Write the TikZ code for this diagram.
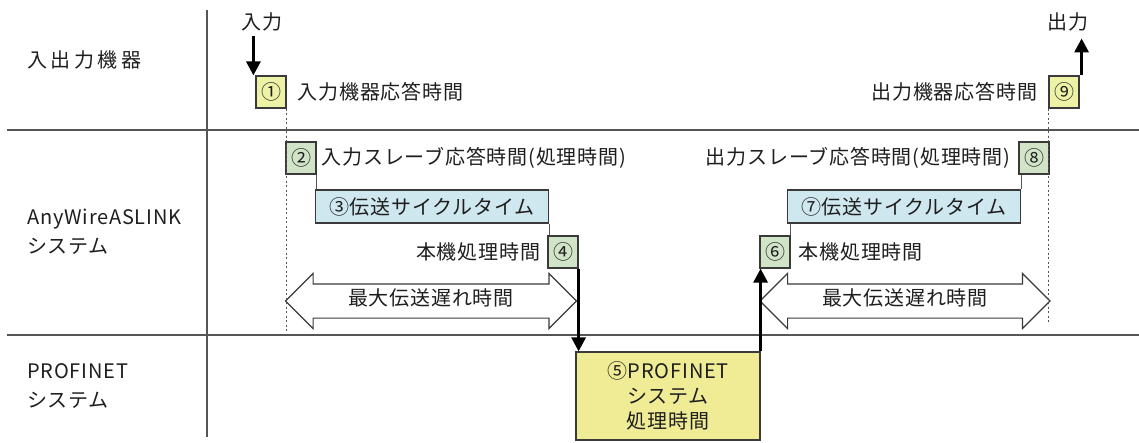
\documentclass[tikz,border=0pt]{standalone}
\usepackage{fontspec}
\newfontfamily\jpfont{Noto Sans CJK JP}[LetterSpace=4]
\newfontfamily\jpwide{Noto Sans CJK JP}[LetterSpace=18]
\usepackage{xcolor}
\usetikzlibrary{positioning, arrows.meta, calc, shapes.arrows}
\definecolor{txt}{HTML}{1E1E1E}
\definecolor{boxline}{HTML}{3A3A3A}
\definecolor{rulec}{HTML}{555555}
\definecolor{devfill}{HTML}{EEF2A6}
\definecolor{slvfill}{HTML}{D2E4C8}
\definecolor{cycfill}{HTML}{CFE7EE}
\definecolor{sysfill}{HTML}{F0EC96}
\tikzset{
  base/.style={font=\jpfont\fontsize{20}{25}\selectfont, text=txt},
  lbl/.style={base, inner sep=0pt},
  lane/.style={base, inner sep=0pt, anchor=west, align=left, font=\jpfont\fontsize{20}{29}\selectfont},
  numbox/.style={base, draw=boxline, line width=1.2pt, minimum width=30pt, minimum height=32pt, inner sep=0pt},
  devbox/.style={numbox, fill=devfill},
  slvbox/.style={numbox, fill=slvfill},
  cycbox/.style={numbox, fill=cycfill, minimum height=33pt},
  sysbox/.style={numbox, fill=sysfill, align=center, minimum width=184pt, minimum height=88pt},
  span/.style={base, double arrow, draw=boxline, fill=white, line width=1.2pt,
    double arrow head extend=10.5pt, inner xsep=0pt, inner ysep=7pt,
    text height=14pt, text depth=5pt},
  sig/.style={-{Triangle[length=14pt, width=14pt]}, line width=3pt, draw=black},
  guide/.style={draw=rulec, line width=1pt, dash pattern=on 2pt off 2.5pt},
  tick/.style={draw=rulec, line width=0.8pt},
  rule/.style={draw=rulec, line width=1.8pt},
}

\begin{document}
\begin{tikzpicture}[x=1pt, y=-1pt]
\useasboundingbox (0,0) rectangle (1139,442);
\node[lane, font=\jpwide\fontsize{20}{25}\selectfont] (row1) at (27,60) {入出力機器};
\node[lane] (row2) at (27,232) {AnyWireASLINK\\システム};
\node[lane] (row3) at (27,386) {PROFINET\\システム};
\draw[rule] (207,10) -- (207,437);
\draw[rule] (7,130) -- (1139,130);
\draw[rule] (7,335) -- (1139,335);

\node[devbox] (n1) at (271,92) {①};
\node[slvbox] (n2) at (301,158) {②};
\node[cycbox, minimum width=233pt] (n3) at (432,206.5) {③伝送サイクルタイム};
\node[slvbox] (n4) at (563,252) {④};
\node[sysbox] (n5) at (668,396) {⑤PROFINET\\システム\\処理時間};
\node[slvbox] (n6) at (775,252) {⑥};
\node[cycbox, minimum width=233pt] (n7) at (904,206.5) {⑦伝送サイクルタイム};
\node[slvbox] (n8) at (1034,158) {⑧};
\node[devbox] (n9) at (1064,92) {⑨};

\node[lbl, right=11pt of n1] (t1) {入力機器応答時間};
\node[lbl, left=11pt of n9] (t9) {出力機器応答時間};
\node[lbl, right=5pt of n2] (t2) {入力スレーブ応答時間(処理時間)};
\node[lbl, left=8pt of n8] (t8) {出力スレーブ応答時間(処理時間)};
\node[lbl, left=7pt of n4] (t4) {本機処理時間};
\node[lbl, right=8pt of n6] (t6) {本機処理時間};
\node[lbl] (in) at (262,22) {入力};
\node[lbl] (out) at (1068,22) {出力};

\node[span, minimum height=291pt] (d1) at (431,301) {最大伝送遅れ時間};
\node[span, minimum height=290pt] (d2) at (905,301) {最大伝送遅れ時間};

\draw[guide] (n1.south east) -- ++(0,222);
\draw[guide] (n9.south west) -- ++(0,215);
\draw[tick] (n2.south east) -- (n2.south east |- n3.north);
\draw[tick] (n3.south east) -- (n3.south east |- n4.north);
\draw[tick] (n6.north east) -- (n6.north east |- n7.south);
\draw[tick] (n7.north east) -- (n7.north east |- n8.south);

\draw[sig] ($(in.south -| n1.north west)+(-2,5)$) -- ($(n1.north west)+(-2,0)$);
\draw[sig] ($(n9.north east)+(2,0)$) -- ($(n9.north east |- out.south)+(2,7)$);
\draw[sig] (n4.south east) -- (n4.south east |- n5.north);
\draw[sig] (n5.north east) -- (n5.north east |- n6.south);
\end{tikzpicture}
\end{document}
